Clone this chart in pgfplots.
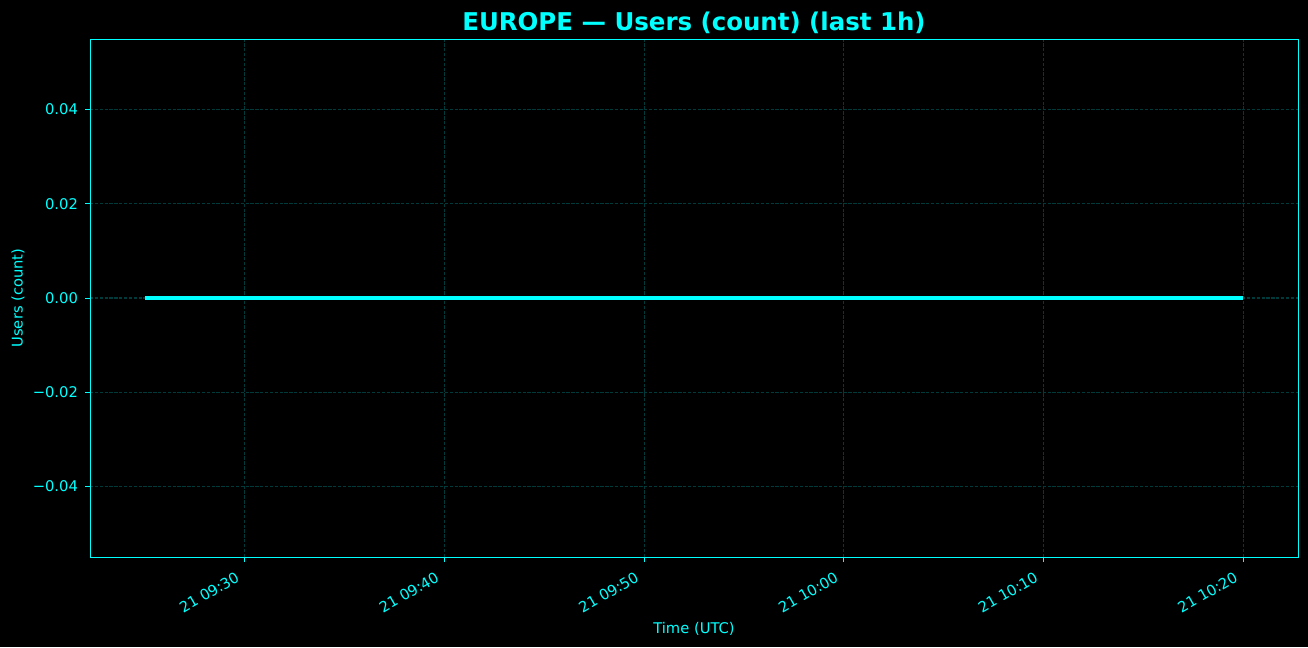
\documentclass[border=0pt]{standalone}
\usepackage{fontspec}
\setmainfont{DejaVu Sans}
\usepackage{pgfplots}
\pgfplotsset{compat=1.18}
\usetikzlibrary{backgrounds}
\definecolor{fg}{RGB}{0,255,255}
\definecolor{gridc}{RGB}{0,58,58}
\begin{document}
\begin{tikzpicture}
\begin{axis}[
  scale only axis,
  width=869.76bp, height=372.96bp,
  xmin=22.25, xmax=82.75,
  ymin=-0.055, ymax=0.055,
  scaled y ticks=false,
  axis background/.style={fill=black},
  axis line style={fg, line width=0.7bp},
  every tick/.style={fg, line width=0.7bp},
  tick align=outside,
  major tick length=3.5bp,
  xtick pos=bottom, ytick pos=left,
  xtick={30,40,50,60,70,80},
  xticklabels={21 09:30,21 09:40,21 09:50,21 10:00,21 10:10,21 10:20},
  ytick={-0.04,-0.02,0,0.02,0.04},
  yticklabels={−0.04,−0.02,0.00,0.02,0.04},
  /pgf/number format/assume math mode=true,
  ticklabel style={font=\fontsize{10.6bp}{12.7bp}\selectfont, text=fg},
  yticklabel style={anchor=east, inner sep=0pt, xshift=-5bp},
  xticklabel style={xshift=-7bp, yshift=-6.5bp, rotate=30, anchor=north east, inner sep=0pt},
  grid=major,
  major grid style={gridc, line width=0.8bp, dash pattern=on 2.4bp off 1.1bp},
  title={\textbf{EUROPE — Users (count) (last 1h)}},
  title style={at={(axis description cs:0.5,1)}, anchor=center, yshift=5.8bp, font=\fontsize{17.6bp}{21bp}\selectfont, text=fg},
  xlabel={Time (UTC)},
  xlabel style={at={(axis description cs:0.5,-0.139)}, anchor=center, font=\fontsize{10.6bp}{12.7bp}\selectfont, text=fg},
  ylabel={Users (count)},
  ylabel style={at={(axis description cs:-0.0596,0.5)}, anchor=center, font=\fontsize{10.6bp}{12.7bp}\selectfont, text=fg},
]
\addplot[fg, line width=2.3bp, no marks] coordinates {
(25,0) (30,0) (35,0) (40,0) (45,0) (50,0) (55,0) (60,0) (65,0) (70,0) (75,0) (80,0)
};
\coordinate (bl) at (rel axis cs:-0.0745,-0.17375);
\coordinate (tr) at (rel axis cs:1.00828,1.07529);
\end{axis}
\pgfresetboundingbox
\path[use as bounding box] (bl) rectangle (tr);
\begin{pgfonlayer}{background}
\fill[black] (bl) rectangle (tr);
\end{pgfonlayer}
\end{tikzpicture}
\end{document}
